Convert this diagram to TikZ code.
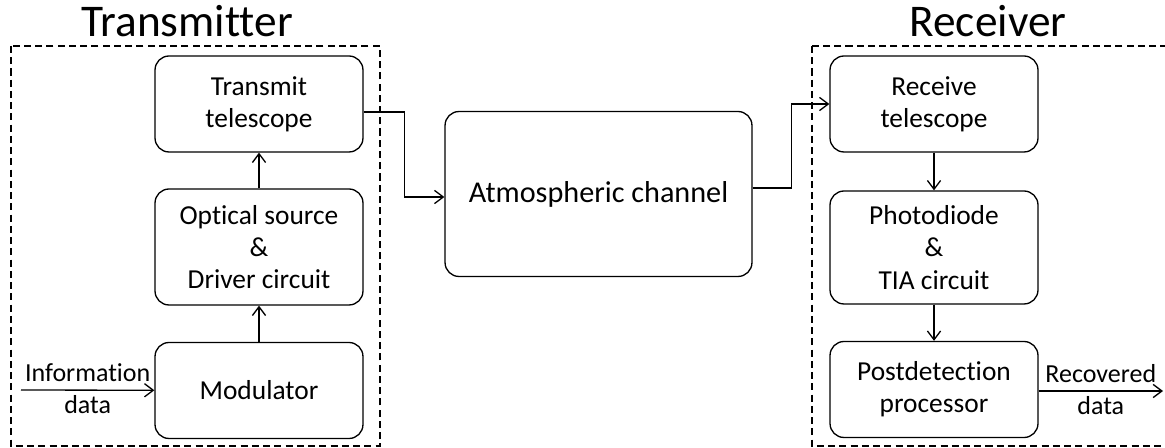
\documentclass[tikz,border=0pt]{standalone}
\usepackage{fontspec}
\setmainfont{Carlito}[Ligatures={NoCommon}]
\usetikzlibrary{arrows.meta}

\begin{document}
\begin{tikzpicture}[
    x=0.02cm, y=-0.02cm,
    ->, >={Straight Barb[length=5pt,width=7.5pt]},
    line width=0.75pt,
    main node/.style={rectangle, rounded corners=0.28cm, draw, align=center,
        minimum width=4.16cm, minimum height=1.92cm, inner sep=1pt,
        font=\fontsize{15.6}{18.4}\selectfont},
    big node/.style={main node, minimum width=6.14cm, minimum height=3.3cm,
        font=\fontsize{17.2}{20}\selectfont},
    group/.style={draw, -, line width=0.7pt, dash pattern=on 4pt off 2.4pt},
    title/.style={anchor=base, font=\fontsize{25.8}{30}\selectfont},
    lbl/.style={font=\fontsize{14.8}{17}\selectfont}
]
\useasboundingbox (0,0) rectangle (1165,448);

% Groups
\draw[group] (11,46) rectangle (380,446);
\draw[group] (812,46) rectangle (1180,446);
\node[title] (l1) at (187,37) {Transmitter};
\node[title] (l2) at (988,37) {Receiver};

% Nodes
\node[main node] at (259,104) (tt) {Transmit\\telescope};
\node[main node, minimum height=2.32cm] at (259,247) (os) {Optical source\\\&\\Driver circuit};
\node[main node] at (259,390.5) (mod) {Modulator};

\node[big node] at (598.5,194) (ch) {Atmospheric channel};

\node[main node] at (934,104) (rt) {Receive\\telescope};
\node[main node, minimum height=2.26cm] at (934,247.5) (pd) {Photodiode\\\&\\TIA circuit};
\node[main node] at (934,389.5) (pp) {Postdetection\\processor};

\coordinate (in) at (21,390);
\coordinate (out) at (1163,391);

% Edges in Transmitter
\draw (in) -- node[lbl, above, inner sep=4.5pt] (i1) {Information}
    node[lbl, below, inner sep=2.5pt] (i2) {data} (mod);
\draw (mod) -- (os);
\draw (os) -- (tt);

% Edges through the channel
\draw ([yshift=-0.16cm]tt.east) -- ++(0.82cm,0) |- ([yshift=-0.06cm]ch.west);
\draw ([yshift=0.12cm]ch.east) -- ++(0.78cm,0) |- (rt.west);

% Edges in Receiver
\draw (rt) -- (pd);
\draw (pd) -- (pp);
\draw (pp.east |- out) -- node[lbl, above, inner sep=4.5pt] (r1) {Recovered}
    node[lbl, below, inner sep=2.5pt] (r2) {data} (out);

\end{tikzpicture}
\end{document}
